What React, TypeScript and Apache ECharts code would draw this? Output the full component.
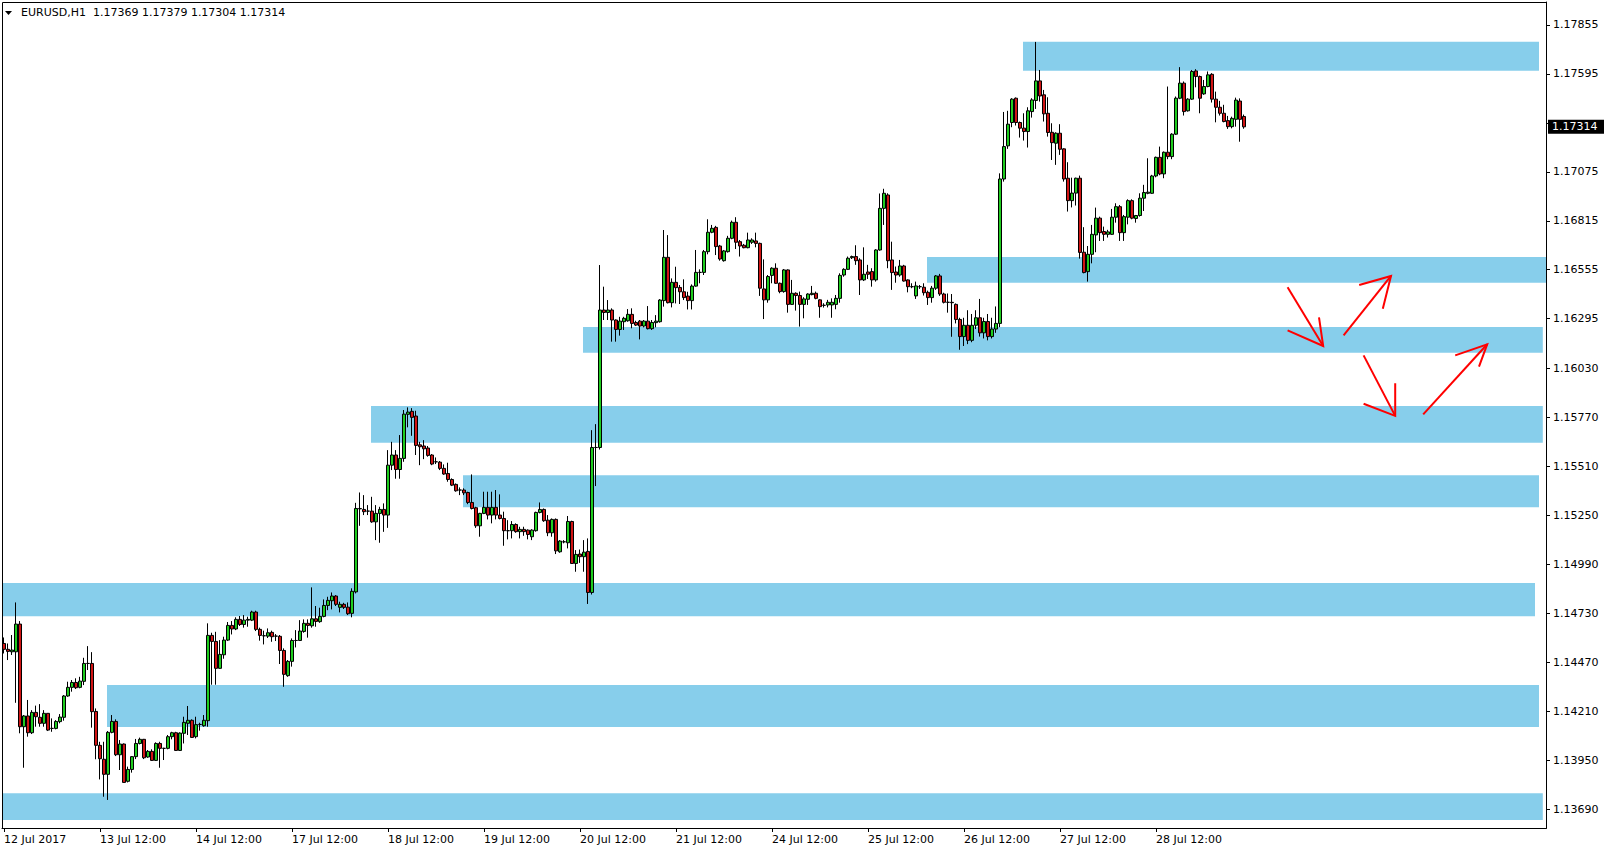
import React, { useEffect, useRef } from "react";
import * as echarts from "echarts";

const TITLE = "EURUSD,H1  1.17369 1.17379 1.17304 1.17314";
const LAST_PRICE = 1.17314;

const X_TICK_LABELS = [
  "12 Jul 2017", "13 Jul 12:00", "14 Jul 12:00", "17 Jul 12:00", "18 Jul 12:00",
  "19 Jul 12:00", "20 Jul 12:00", "21 Jul 12:00", "24 Jul 12:00", "25 Jul 12:00",
  "26 Jul 12:00", "27 Jul 12:00", "28 Jul 12:00",
];
const BARS_PER_LABEL = 24;

// price-scale ticks; the 1.17335 tick label is hidden under the current-price tag
const Y_TICKS = [
  1.1369, 1.1395, 1.1421, 1.1447, 1.1473, 1.1499, 1.1525, 1.1551, 1.1577,
  1.1603, 1.16295, 1.16555, 1.16815, 1.17075, 1.17335, 1.17595, 1.17855,
];
const Y_TICK_LABELS = [
  1.1369, 1.1395, 1.1421, 1.1447, 1.1473, 1.1499, 1.1525, 1.1551, 1.1577,
  1.1603, 1.16295, 1.16555, 1.16815, 1.17075, 1.17595, 1.17855,
];

// hourly candles, first bar 12 Jul 2017 12:00 — [open, close, low, high]
const CANDLES: number[][] = [
  [1.1457, 1.14539, 1.14517, 1.14602], [1.14539, 1.14528, 1.14482, 1.1457], [1.14526, 1.14535, 1.14509, 1.14615],
  [1.14526, 1.14673, 1.14255, 1.14788], [1.14673, 1.14128, 1.14093, 1.14689], [1.14128, 1.14185, 1.1391, 1.1419],
  [1.14185, 1.14096, 1.14075, 1.1427], [1.14096, 1.14204, 1.14089, 1.14216], [1.14204, 1.14181, 1.14128, 1.1424],
  [1.14178, 1.14146, 1.14128, 1.14248], [1.14146, 1.14199, 1.14128, 1.14216], [1.14199, 1.1411, 1.14105, 1.14199],
  [1.14119, 1.14119, 1.14101, 1.14172], [1.14119, 1.14156, 1.14114, 1.14163], [1.14155, 1.14179, 1.14146, 1.14195],
  [1.14178, 1.14291, 1.1416, 1.14296], [1.14291, 1.14337, 1.14287, 1.14367], [1.14337, 1.14363, 1.14314, 1.14376],
  [1.14363, 1.14335, 1.14328, 1.14385], [1.14337, 1.1437, 1.14332, 1.14393], [1.14369, 1.14464, 1.14349, 1.14494],
  [1.14464, 1.14464, 1.14429, 1.14556], [1.14464, 1.14208, 1.14123, 1.14524], [1.14209, 1.14029, 1.13955, 1.14225],
  [1.14029, 1.13958, 1.13848, 1.14048], [1.13955, 1.13875, 1.13756, 1.14048], [1.13875, 1.14098, 1.13739, 1.14105],
  [1.14098, 1.14156, 1.14093, 1.1419], [1.14156, 1.13979, 1.13972, 1.14167], [1.13979, 1.14036, 1.13898, 1.14057],
  [1.14036, 1.13832, 1.13831, 1.14039], [1.13838, 1.13901, 1.13832, 1.13916], [1.13901, 1.13969, 1.13884, 1.13972],
  [1.13969, 1.14039, 1.13956, 1.14063], [1.14039, 1.14061, 1.14034, 1.1407], [1.14061, 1.13963, 1.13956, 1.14063],
  [1.13967, 1.13997, 1.13963, 1.14004], [1.13997, 1.13949, 1.13946, 1.14008], [1.13949, 1.14039, 1.13946, 1.14045],
  [1.14039, 1.14013, 1.1391, 1.14048], [1.14013, 1.14013, 1.13951, 1.14016], [1.14013, 1.14075, 1.14008, 1.14084],
  [1.14075, 1.14096, 1.14061, 1.14101], [1.14096, 1.14002, 1.13999, 1.14101], [1.14002, 1.14094, 1.13999, 1.14098],
  [1.14093, 1.14151, 1.14039, 1.14181], [1.14146, 1.14162, 1.14084, 1.14238], [1.14162, 1.14071, 1.14068, 1.14167],
  [1.14075, 1.14139, 1.14066, 1.14181], [1.1414, 1.1414, 1.14107, 1.14149], [1.14133, 1.14162, 1.14128, 1.1419],
  [1.1416, 1.14613, 1.14128, 1.14677], [1.14613, 1.14581, 1.14351, 1.14627], [1.14581, 1.14438, 1.14351, 1.14632],
  [1.14438, 1.14512, 1.14436, 1.14588], [1.1451, 1.14588, 1.14489, 1.14606], [1.14588, 1.14666, 1.14583, 1.14684],
  [1.14666, 1.14647, 1.14618, 1.14689], [1.14647, 1.14698, 1.14641, 1.14709], [1.14698, 1.14671, 1.14663, 1.14716],
  [1.14671, 1.14694, 1.14654, 1.14721], [1.14694, 1.14698, 1.14659, 1.14712], [1.14694, 1.14737, 1.14689, 1.14744],
  [1.14737, 1.14645, 1.14636, 1.14744], [1.14645, 1.14613, 1.14585, 1.14654], [1.14611, 1.14611, 1.14565, 1.14638],
  [1.14609, 1.14627, 1.14599, 1.1465], [1.14629, 1.14606, 1.14579, 1.14638], [1.14609, 1.14609, 1.14583, 1.1462],
  [1.14608, 1.14533, 1.14461, 1.14615], [1.14533, 1.14406, 1.1434, 1.14544], [1.14399, 1.14475, 1.14393, 1.14482],
  [1.14475, 1.14586, 1.14447, 1.14597], [1.14586, 1.14586, 1.14549, 1.14641], [1.14586, 1.14636, 1.14583, 1.14694],
  [1.14634, 1.14677, 1.14627, 1.14698], [1.14677, 1.14666, 1.14601, 1.14698], [1.14664, 1.14701, 1.14654, 1.14868],
  [1.14701, 1.14687, 1.14659, 1.14769], [1.14686, 1.14714, 1.1468, 1.1476], [1.14714, 1.14772, 1.14709, 1.14804],
  [1.14772, 1.14799, 1.14747, 1.14818], [1.14797, 1.14822, 1.14751, 1.14841], [1.14822, 1.14778, 1.14769, 1.14827],
  [1.14762, 1.14778, 1.14735, 1.14792], [1.14778, 1.14762, 1.14753, 1.14786], [1.14763, 1.14728, 1.14721, 1.14788],
  [1.1473, 1.14847, 1.14709, 1.14863], [1.14844, 1.15287, 1.14836, 1.15317], [1.15287, 1.15285, 1.15195, 1.15372],
  [1.15282, 1.1527, 1.15252, 1.15358], [1.15273, 1.15273, 1.15252, 1.15305], [1.15273, 1.15216, 1.15211, 1.15349],
  [1.15216, 1.15261, 1.15119, 1.15305], [1.15261, 1.15282, 1.15105, 1.15296], [1.15282, 1.15252, 1.15163, 1.15314],
  [1.15252, 1.15517, 1.15184, 1.15597], [1.15517, 1.15571, 1.15491, 1.15641], [1.15571, 1.15494, 1.15445, 1.15597],
  [1.15494, 1.15553, 1.15445, 1.15677], [1.15553, 1.15788, 1.15535, 1.1581], [1.15787, 1.15799, 1.15718, 1.15824],
  [1.15803, 1.15771, 1.15673, 1.1582], [1.15778, 1.15622, 1.15571, 1.15806], [1.15625, 1.15615, 1.15517, 1.15641],
  [1.15619, 1.15604, 1.15549, 1.1565], [1.15608, 1.15569, 1.15562, 1.15619], [1.15571, 1.15523, 1.15517, 1.15576],
  [1.15535, 1.15535, 1.15523, 1.15558], [1.15533, 1.155, 1.15491, 1.15539], [1.155, 1.1547, 1.15466, 1.15521],
  [1.15473, 1.15441, 1.15429, 1.1553], [1.15441, 1.15411, 1.15406, 1.15447], [1.15415, 1.15381, 1.15376, 1.1542],
  [1.15385, 1.15385, 1.15358, 1.15399], [1.15385, 1.1537, 1.15358, 1.15394], [1.15372, 1.15319, 1.1531, 1.15376],
  [1.15319, 1.15287, 1.15282, 1.15468], [1.15291, 1.15195, 1.15184, 1.15296], [1.15195, 1.15261, 1.15137, 1.15264],
  [1.15261, 1.15293, 1.15257, 1.15376], [1.15293, 1.15252, 1.15229, 1.15376], [1.15252, 1.15293, 1.15208, 1.15376],
  [1.15293, 1.15252, 1.15229, 1.15385], [1.15252, 1.15234, 1.15229, 1.15362], [1.15234, 1.15169, 1.15089, 1.1527],
  [1.15169, 1.15169, 1.15123, 1.15225], [1.15169, 1.15202, 1.15128, 1.1522], [1.15202, 1.15164, 1.15158, 1.15208],
  [1.15164, 1.15176, 1.15128, 1.1519], [1.15176, 1.15164, 1.15142, 1.1519], [1.15172, 1.15149, 1.15123, 1.15176],
  [1.15137, 1.15172, 1.15119, 1.15177], [1.15169, 1.15266, 1.15164, 1.1527], [1.15266, 1.15282, 1.15261, 1.15319],
  [1.15282, 1.15222, 1.15216, 1.15287], [1.15225, 1.15158, 1.1514, 1.15252], [1.15158, 1.15229, 1.15137, 1.15234],
  [1.15229, 1.15062, 1.15045, 1.15234], [1.15057, 1.15114, 1.15052, 1.15119], [1.1511, 1.1511, 1.15102, 1.15119],
  [1.15105, 1.15218, 1.15075, 1.15247], [1.15218, 1.14995, 1.14992, 1.15222], [1.14995, 1.15043, 1.14951, 1.15066],
  [1.15045, 1.15031, 1.14998, 1.15069], [1.15031, 1.15055, 1.14951, 1.15119], [1.15059, 1.14841, 1.1478, 1.15128],
  [1.14841, 1.15611, 1.1483, 1.15703], [1.15611, 1.15611, 1.15406, 1.15735], [1.15611, 1.16341, 1.156, 1.1658],
  [1.16341, 1.16328, 1.16288, 1.16465], [1.16328, 1.16341, 1.16288, 1.16394], [1.16341, 1.16288, 1.16173, 1.1635],
  [1.16288, 1.16238, 1.16173, 1.16291], [1.16238, 1.16282, 1.16205, 1.16305], [1.16279, 1.16297, 1.16235, 1.16305],
  [1.16284, 1.16318, 1.16279, 1.16346], [1.16318, 1.1627, 1.16244, 1.1635], [1.16275, 1.16261, 1.16256, 1.16284],
  [1.16282, 1.16256, 1.16185, 1.16288], [1.16256, 1.16282, 1.16249, 1.16288], [1.16282, 1.16242, 1.16238, 1.16362],
  [1.16242, 1.16275, 1.16235, 1.16288], [1.16274, 1.16282, 1.16249, 1.16314], [1.16279, 1.16394, 1.16274, 1.16399],
  [1.16391, 1.16621, 1.16359, 1.16766], [1.16621, 1.1638, 1.16376, 1.16739], [1.1638, 1.16488, 1.16355, 1.16509],
  [1.16488, 1.1646, 1.16376, 1.16571], [1.16461, 1.16438, 1.16373, 1.16474], [1.16438, 1.16407, 1.16394, 1.16504],
  [1.16415, 1.16391, 1.16344, 1.16438], [1.16391, 1.16468, 1.16344, 1.16477], [1.16468, 1.16541, 1.16465, 1.1666],
  [1.16541, 1.16541, 1.16483, 1.16557], [1.16541, 1.16651, 1.16527, 1.1666], [1.16651, 1.16754, 1.16637, 1.16823],
  [1.16754, 1.16775, 1.16749, 1.16793], [1.1678, 1.16678, 1.16633, 1.16788], [1.16681, 1.16612, 1.16603, 1.16687],
  [1.16603, 1.16655, 1.16598, 1.1666], [1.16651, 1.16722, 1.16646, 1.16735], [1.16722, 1.16807, 1.16717, 1.16816],
  [1.16807, 1.16701, 1.16665, 1.16834], [1.16704, 1.16681, 1.16625, 1.16713], [1.16685, 1.16672, 1.16669, 1.16692],
  [1.16672, 1.16713, 1.16669, 1.16752], [1.16701, 1.16713, 1.16692, 1.16722], [1.16708, 1.16695, 1.16674, 1.16752],
  [1.16695, 1.16457, 1.16416, 1.16699], [1.16453, 1.16395, 1.16293, 1.1661], [1.16395, 1.16519, 1.1638, 1.16527],
  [1.16525, 1.16563, 1.16483, 1.16568], [1.16563, 1.16483, 1.1648, 1.16589], [1.16483, 1.16439, 1.1643, 1.16487],
  [1.16439, 1.16554, 1.16433, 1.16559], [1.16554, 1.16371, 1.16327, 1.16557], [1.16371, 1.1643, 1.16368, 1.16501],
  [1.1643, 1.16418, 1.16338, 1.16435], [1.16418, 1.16371, 1.16253, 1.16439], [1.16371, 1.164, 1.16297, 1.16409],
  [1.16398, 1.16426, 1.16368, 1.1643], [1.16423, 1.1643, 1.16419, 1.16469], [1.1643, 1.16403, 1.16398, 1.16439],
  [1.16395, 1.16359, 1.163, 1.16398], [1.16366, 1.16366, 1.16354, 1.16377], [1.16368, 1.16382, 1.16355, 1.16395],
  [1.16368, 1.16382, 1.163, 1.16403], [1.16371, 1.16403, 1.16345, 1.16421], [1.16403, 1.16525, 1.1638, 1.16536],
  [1.16527, 1.16557, 1.16518, 1.16563], [1.16557, 1.16616, 1.16554, 1.16625], [1.16619, 1.16625, 1.16612, 1.1663],
  [1.16625, 1.16603, 1.16581, 1.16685], [1.16607, 1.16501, 1.16421, 1.16616], [1.16501, 1.16531, 1.16495, 1.16674],
  [1.16543, 1.16531, 1.16506, 1.16581], [1.16545, 1.16501, 1.16465, 1.16563], [1.16501, 1.1666, 1.16492, 1.16664],
  [1.1666, 1.16881, 1.16656, 1.1696], [1.16881, 1.16961, 1.16793, 1.16985], [1.16952, 1.16603, 1.16563, 1.16961],
  [1.16607, 1.1654, 1.16448, 1.16704], [1.16543, 1.16527, 1.16486, 1.16572], [1.16527, 1.16575, 1.16518, 1.16607],
  [1.16575, 1.16495, 1.16492, 1.16581], [1.16501, 1.16465, 1.16435, 1.16504], [1.16465, 1.16465, 1.16457, 1.16483],
  [1.16416, 1.16469, 1.164, 1.16492], [1.16465, 1.16465, 1.16453, 1.16474], [1.16462, 1.16433, 1.16418, 1.16483],
  [1.16435, 1.16407, 1.16368, 1.16444], [1.16407, 1.16457, 1.1638, 1.16469], [1.16457, 1.16522, 1.16448, 1.16527],
  [1.16522, 1.16426, 1.16416, 1.16533], [1.16426, 1.16382, 1.16376, 1.16433], [1.16382, 1.16382, 1.16327, 1.16429],
  [1.16382, 1.1638, 1.16199, 1.16426], [1.16371, 1.16291, 1.1627, 1.16376], [1.16291, 1.162, 1.1613, 1.163],
  [1.162, 1.1626, 1.1615, 1.163], [1.1626, 1.1618, 1.1616, 1.1634], [1.1618, 1.1626, 1.1617, 1.1632],
  [1.1626, 1.163, 1.1624, 1.1634], [1.163, 1.1622, 1.162, 1.164], [1.1622, 1.1628, 1.1619, 1.163],
  [1.1628, 1.162, 1.1618, 1.1632], [1.162, 1.1624, 1.1619, 1.163], [1.1624, 1.1627, 1.1622, 1.1636],
  [1.1627, 1.17037, 1.1625, 1.17067], [1.17037, 1.17209, 1.17023, 1.17393], [1.17213, 1.17328, 1.17197, 1.17399],
  [1.17337, 1.17461, 1.17312, 1.17466], [1.17466, 1.17337, 1.17321, 1.1747], [1.17337, 1.17307, 1.17257, 1.17342],
  [1.17307, 1.17289, 1.17241, 1.17386], [1.17289, 1.17399, 1.17204, 1.17418], [1.17395, 1.17457, 1.17363, 1.17466],
  [1.17454, 1.17558, 1.17409, 1.17765], [1.17558, 1.17478, 1.17448, 1.17616], [1.17484, 1.17383, 1.17342, 1.1751],
  [1.17386, 1.17284, 1.17262, 1.17471], [1.17285, 1.1723, 1.17138, 1.17333], [1.17227, 1.1728, 1.17112, 1.17285],
  [1.1728, 1.17195, 1.17165, 1.17328], [1.17197, 1.17037, 1.17023, 1.172], [1.17041, 1.16922, 1.16864, 1.17126],
  [1.16922, 1.16962, 1.16886, 1.17044], [1.16962, 1.17041, 1.16896, 1.17044], [1.17041, 1.16647, 1.16614, 1.17055],
  [1.16648, 1.1654, 1.16536, 1.16781], [1.16545, 1.16637, 1.16492, 1.16681], [1.16637, 1.16743, 1.16589, 1.16793],
  [1.1674, 1.16829, 1.16648, 1.16885], [1.16829, 1.16752, 1.16708, 1.16837], [1.16758, 1.16743, 1.16708, 1.16784],
  [1.16743, 1.16756, 1.16726, 1.16767], [1.16743, 1.16834, 1.1674, 1.16878], [1.16834, 1.1689, 1.16805, 1.16908],
  [1.1689, 1.16752, 1.16708, 1.16899], [1.16752, 1.16837, 1.16708, 1.16846], [1.16834, 1.16922, 1.16796, 1.16929],
  [1.16922, 1.16829, 1.16823, 1.16929], [1.16827, 1.16843, 1.16805, 1.16846], [1.16843, 1.16935, 1.16837, 1.16961],
  [1.16935, 1.16965, 1.16867, 1.17006], [1.16961, 1.16967, 1.16956, 1.17147], [1.16961, 1.17053, 1.16958, 1.17059],
  [1.17053, 1.17152, 1.17046, 1.17156], [1.17152, 1.17064, 1.17057, 1.17209], [1.17064, 1.17179, 1.17041, 1.17183],
  [1.17179, 1.17156, 1.17142, 1.17528], [1.17156, 1.17275, 1.17142, 1.1728], [1.17275, 1.17466, 1.17271, 1.17475],
  [1.17466, 1.17546, 1.17461, 1.17631], [1.17546, 1.17395, 1.17374, 1.17555], [1.17399, 1.17461, 1.17395, 1.17466],
  [1.17461, 1.17608, 1.17457, 1.17616], [1.17611, 1.17581, 1.17524, 1.1762], [1.17581, 1.17466, 1.17386, 1.17586],
  [1.17489, 1.17528, 1.17484, 1.17563], [1.17528, 1.1759, 1.17524, 1.17608], [1.17593, 1.17461, 1.17443, 1.17599],
  [1.17461, 1.17418, 1.17338, 1.17501], [1.17418, 1.17386, 1.17374, 1.17452], [1.17386, 1.17342, 1.17338, 1.17431],
  [1.17347, 1.17315, 1.17303, 1.17372], [1.17315, 1.17359, 1.17306, 1.17368], [1.17354, 1.17456, 1.17315, 1.17469],
  [1.17451, 1.17354, 1.17235, 1.17465], [1.17369, 1.17314, 1.17304, 1.17379],
];

// empty right-hand shift of the chart, in bars
const FUTURE_BARS = 75;

// support / resistance zones: [start bar, end bar, low price, high price]
const ZONES: number[][] = [
  [254.75, 383.75, 1.17612, 1.17766],
  [230.75, 385.5, 1.16486, 1.16623],
  [144.75, 384.7, 1.16114, 1.16251],
  [91.75, 384.7, 1.15636, 1.15831],
  [114.75, 383.75, 1.15294, 1.15464],
  [-0.5, 382.75, 1.14715, 1.14891],
  [25.75, 383.75, 1.14127, 1.14349],
  [-0.5, 384.7, 1.13632, 1.13775],
];

// hand-drawn arrows: [bar, price] points
const ARROWS = [
  { tail: [320.9, 1.16462], tip: [329.8, 1.1615], wingA: [328.75, 1.16302], wingB: [320.9, 1.16233] },
  { tail: [334.9, 1.16207], tip: [346.75, 1.16522], wingA: [338.8, 1.16474], wingB: [344.7, 1.16348] },
  { tail: [339.9, 1.161], tip: [347.8, 1.15779], wingA: [347.8, 1.15952], wingB: [339.9, 1.15843] },
  { tail: [354.8, 1.15787], tip: [370.8, 1.16159], wingA: [362.8, 1.161], wingB: [368.75, 1.1604] },
];

const Y_MIN = 1.1359;
const Y_MAX = 1.17977;

const FONT = "'DejaVu Sans', sans-serif";
const ZONE_COLOR = "#87CEEB";
const BULL = "#1FCC1F";
const BEAR = "#D01414";
const MONTHS = ["Jan", "Feb", "Mar", "Apr", "May", "Jun", "Jul", "Aug", "Sep", "Oct", "Nov", "Dec"];

function buildCategories(n: number): string[] {
  const out: string[] = [];
  let t = Date.UTC(2017, 6, 12, 12);
  while (out.length < n) {
    const d = new Date(t);
    const wd = d.getUTCDay();
    if (wd !== 0 && wd !== 6) {
      const hh = String(d.getUTCHours()).padStart(2, "0");
      out.push(`${d.getUTCDate()} ${MONTHS[d.getUTCMonth()]} ${hh}:00`);
    }
    t += 3600000;
  }
  return out;
}

export default function App() {
  const ref = useRef<HTMLDivElement>(null);

  useEffect(() => {
    document.body.style.margin = "0";
    if (!ref.current) return;
    const chart = echarts.init(ref.current, undefined, { renderer: "svg" });
    const categories = buildCategories(CANDLES.length + FUTURE_BARS);
    const showTick = (index: number) =>
      index % BARS_PER_LABEL === 0 && index / BARS_PER_LABEL < X_TICK_LABELS.length;

    const toPx = (api: any, pt: number[]) => {
      const band = api.size([1, 0])[0];
      const c = api.coord([0, pt[1]]);
      return [c[0] + pt[0] * band, c[1]];
    };

    const option: any = {
      animation: false,
      backgroundColor: "#ffffff",
      grid: { left: 2, right: 60, top: 2, bottom: 24, show: false },
      xAxis: {
        type: "category",
        data: categories,
        boundaryGap: true,
        axisLine: { show: true, lineStyle: { color: "#000", width: 1 } },
        axisTick: { show: true, alignWithLabel: true, interval: showTick, length: 4, lineStyle: { color: "#000" } },
        axisLabel: {
          interval: showTick,
          formatter: (_v: string, idx: number) => X_TICK_LABELS[idx / BARS_PER_LABEL],
          align: "left",
          margin: 6,
          fontFamily: FONT,
          fontSize: 11,
          color: "#000",
        },
        splitLine: { show: false },
      },
      yAxis: {
        type: "value",
        position: "right",
        min: Y_MIN,
        max: Y_MAX,
        axisLine: { show: true, lineStyle: { color: "#000", width: 1 } },
        axisTick: { show: true, length: 4, customValues: Y_TICKS, lineStyle: { color: "#000" } },
        axisLabel: {
          customValues: Y_TICK_LABELS,
          formatter: (v: number) => v.toFixed(5),
          margin: 7,
          fontFamily: FONT,
          fontSize: 11,
          color: "#000",
        },
        splitLine: { show: false },
      },
      series: [
        {
          type: "custom",
          name: "zones",
          z: 1,
          silent: true,
          data: ZONES.map((z) => [0, z[2]]),
          renderItem: (params: any, api: any) => {
            const z = ZONES[params.dataIndex];
            const p0 = toPx(api, [z[0], z[3]]);
            const p1 = toPx(api, [z[1], z[2]]);
            return {
              type: "rect",
              shape: { x: p0[0], y: p0[1], width: p1[0] - p0[0], height: p1[1] - p0[1] },
              style: { fill: ZONE_COLOR },
            };
          },
        },
        {
          type: "candlestick",
          name: "EURUSD",
          z: 3,
          barWidth: 3,
          data: CANDLES,
          itemStyle: {
            color: BULL,
            color0: BEAR,
            borderColor: "#000",
            borderColor0: "#000",
            borderColorDoji: "#000",
            borderWidth: 1,
          },
        },
        {
          type: "custom",
          name: "arrows",
          z: 5,
          silent: true,
          data: ARROWS.map((a) => [0, a.tip[1]]),
          renderItem: (params: any, api: any) => {
            const a = ARROWS[params.dataIndex];
            const style = { stroke: "#FF0000", lineWidth: 2, fill: null };
            return {
              type: "group",
              children: [
                { type: "polyline", shape: { points: [toPx(api, a.tail), toPx(api, a.tip)] }, style },
                { type: "polyline", shape: { points: [toPx(api, a.wingA), toPx(api, a.tip), toPx(api, a.wingB)] }, style },
              ],
            };
          },
        },
        {
          type: "custom",
          name: "price tag",
          z: 20,
          silent: true,
          clip: false,
          data: [[0, LAST_PRICE]],
          renderItem: (params: any, api: any) => {
            const y = api.coord([0, LAST_PRICE])[1];
            const right = params.coordSys.x + params.coordSys.width;
            return {
              type: "group",
              children: [
                { type: "rect", shape: { x: right + 2, y: y - 7, width: 56, height: 14 }, style: { fill: "#000" } },
                {
                  type: "text",
                  x: right + 6,
                  y: y,
                  style: {
                    text: LAST_PRICE.toFixed(5),
                    fill: "#fff",
                    fontFamily: FONT,
                    fontSize: 11,
                    verticalAlign: "middle",
                    align: "left",
                  },
                },
              ],
            };
          },
        },
      ],
      graphic: [
        {
          type: "rect",
          silent: true,
          z: 100,
          shape: { x: 2.5, y: 2.5, width: 1544, height: 826 },
          style: { fill: null, stroke: "#000", lineWidth: 1 },
        },
        {
          type: "polygon",
          silent: true,
          z: 101,
          shape: { points: [[5, 11], [12, 11], [8.5, 15]] },
          style: { fill: "#000" },
        },
        {
          type: "text",
          silent: true,
          z: 101,
          x: 21,
          y: 7,
          style: { text: TITLE, fill: "#000", fontFamily: FONT, fontSize: 11, verticalAlign: "top" },
        },
      ],
    };
    chart.setOption(option);
    return () => chart.dispose();
  }, []);

  return <div ref={ref} style={{ width: 1606, height: 852 }} />;
}
